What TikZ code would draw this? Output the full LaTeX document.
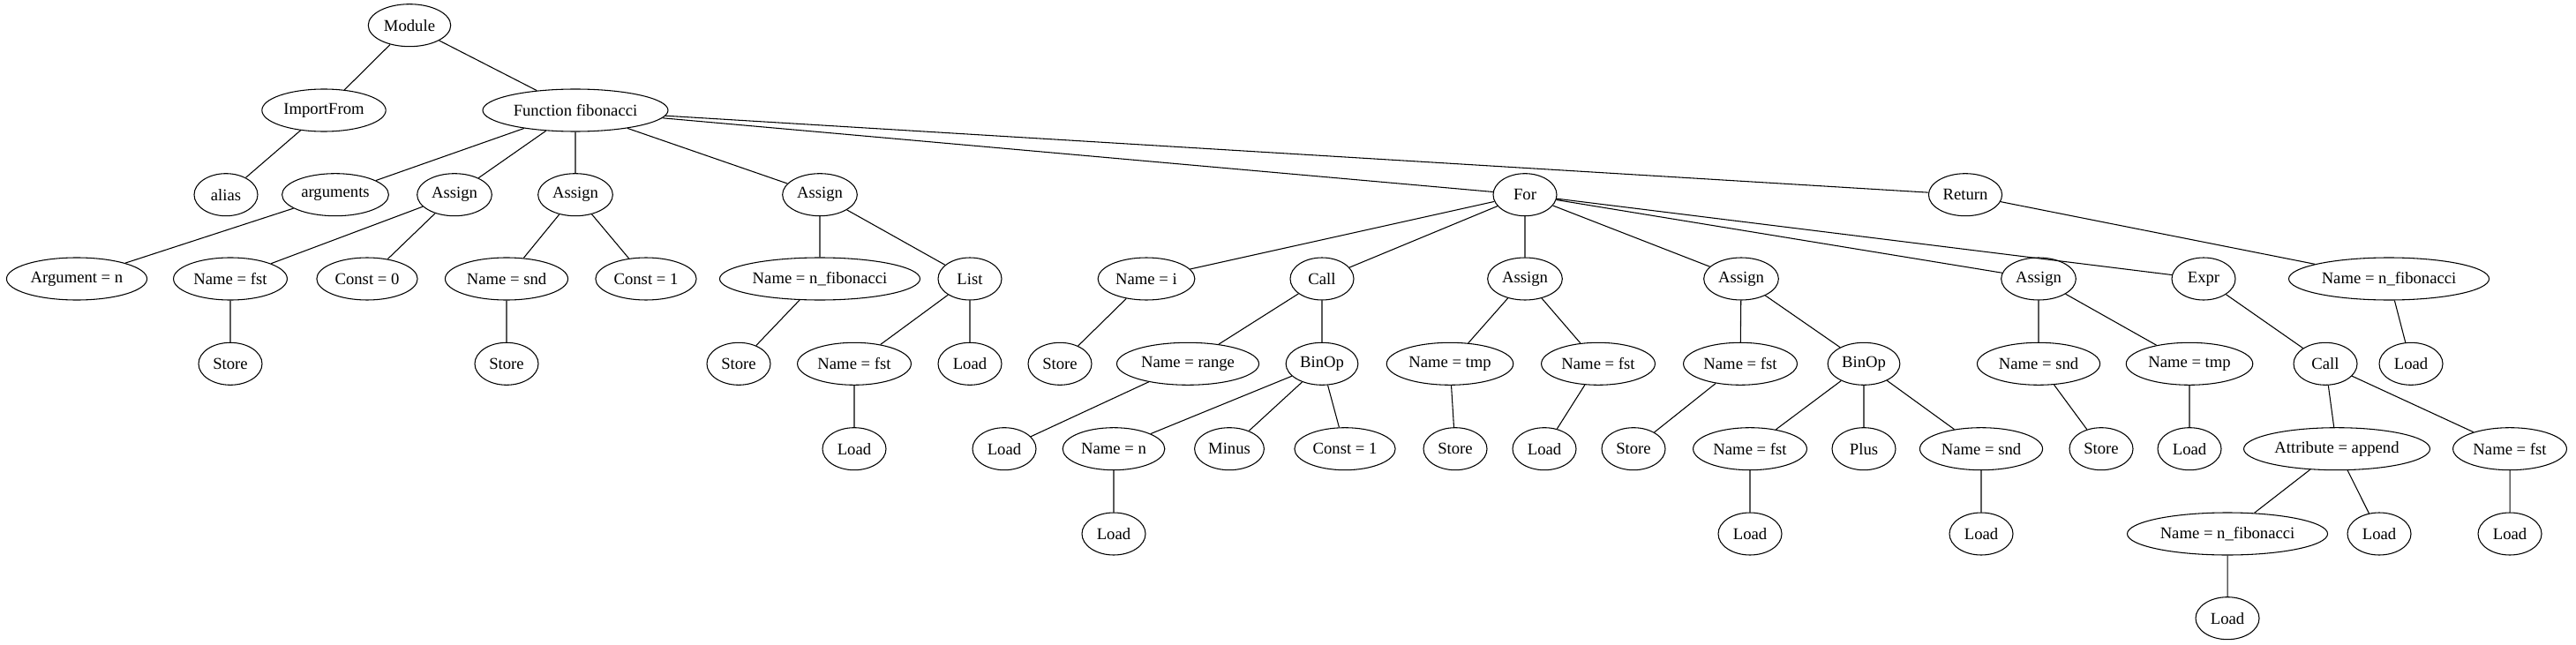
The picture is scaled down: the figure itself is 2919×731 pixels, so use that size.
\documentclass[tikz,border=0pt]{standalone}
\usepackage{fontspec}
\setmainfont{Liberation Serif}
\usetikzlibrary{shapes.geometric}

\begin{document}
\begin{tikzpicture}[x=0.75pt,y=-0.75pt,
  ast/.style={ellipse,draw,line width=0.8pt,minimum width=54pt,minimum height=36pt,
    inner xsep=3pt,inner ysep=1pt,font=\fontsize{14}{16}\selectfont},
  every path/.style={line width=0.8pt}]
\useasboundingbox (0,0) rectangle (2919,731);
% rank 1 and 2
\node[ast] (mod) at (464,28.7) {Module};
\node[ast] (imp) at (367,125) {ImportFrom};
\node[ast] (func) at (652,125) {Function fibonacci};
% rank 3
\node[ast] (alias) at (256,220.7) {alias};
\node[ast] (args) at (380,220.7) {arguments};
\node[ast] (asgA) at (515,220.7) {Assign};
\node[ast] (asgB) at (652,220.7) {Assign};
\node[ast] (asgC) at (929,220.7) {Assign};
\node[ast] (for) at (1728,220.7) {For};
\node[ast] (ret) at (2227,220.7) {Return};
% rank 4
\node[ast] (argn) at (87,316) {Argument = n};
\node[ast] (fstA) at (261,316) {Name = fst};
\node[ast] (cz) at (416,316) {Const = 0};
\node[ast] (sndA) at (574,316) {Name = snd};
\node[ast] (co) at (732,316) {Const = 1};
\node[ast] (nfibA) at (929,316) {Name = n\_fibonacci};
\node[ast] (list) at (1099,316) {List};
\node[ast] (namei) at (1299,316) {Name = i};
\node[ast] (call) at (1498,316) {Call};
\node[ast] (asgD) at (1728,316) {Assign};
\node[ast] (asgE) at (1973,316) {Assign};
\node[ast] (asgF) at (2310,316) {Assign};
\node[ast] (expr) at (2497,316) {Expr};
\node[ast] (nfibR) at (2707,316) {Name = n\_fibonacci};
% rank 5
\node[ast] (stA) at (261,412.3) {Store};
\node[ast] (stB) at (574,412.3) {Store};
\node[ast] (stC) at (837,412.3) {Store};
\node[ast] (fstL) at (968,412.3) {Name = fst};
\node[ast] (ldL) at (1099,412.3) {Load};
\node[ast] (stI) at (1201,412.3) {Store};
\node[ast] (range) at (1346,412.3) {Name = range};
\node[ast] (binM) at (1498,412.3) {BinOp};
\node[ast] (tmpD) at (1643,412.3) {Name = tmp};
\node[ast] (fstD) at (1811,412.3) {Name = fst};
\node[ast] (fstE) at (1972,412.3) {Name = fst};
\node[ast] (binP) at (2112,412.3) {BinOp};
\node[ast] (sndF) at (2310,412.3) {Name = snd};
\node[ast] (tmpF) at (2481,412.3) {Name = tmp};
\node[ast] (callX) at (2635,412.3) {Call};
\node[ast] (ldR) at (2732,412.3) {Load};
% rank 6
\node[ast] (ldFL) at (968,508.7) {Load};
\node[ast] (ldRg) at (1138,508.7) {Load};
\node[ast] (namen) at (1262,508.7) {Name = n};
\node[ast] (minus) at (1393,508.7) {Minus};
\node[ast] (cone) at (1524,508.7) {Const = 1};
\node[ast] (stT) at (1649,508.7) {Store};
\node[ast] (ldFD) at (1750,508.7) {Load};
\node[ast] (stFE) at (1851,508.7) {Store};
\node[ast] (fstP) at (1983,508.7) {Name = fst};
\node[ast] (plus) at (2112,508.7) {Plus};
\node[ast] (sndP) at (2245,508.7) {Name = snd};
\node[ast] (stS) at (2381,508.7) {Store};
\node[ast] (ldT) at (2481,508.7) {Load};
\node[ast] (attr) at (2648,508.7) {Attribute = append};
\node[ast] (fstX) at (2844,508.7) {Name = fst};
% rank 7 and 8
\node[ast] (ldN) at (1262,605) {Load};
\node[ast] (ldFP) at (1983,605) {Load};
\node[ast] (ldSP) at (2245,605) {Load};
\node[ast] (nfibX) at (2524,605) {Name = n\_fibonacci};
\node[ast] (ldAt) at (2696,605) {Load};
\node[ast] (ldFX) at (2844,605) {Load};
\node[ast] (ldNX) at (2524,700.7) {Load};
% edges
\draw (mod) -- (imp) (mod) -- (func) (imp) -- (alias);
\draw (func) -- (args) (func) -- (asgA) (func) -- (asgB) (func) -- (asgC) (func) -- (for) (func) -- (ret);
\draw (args) -- (argn);
\draw (asgA) -- (fstA) (asgA) -- (cz) (fstA) -- (stA);
\draw (asgB) -- (sndA) (asgB) -- (co) (sndA) -- (stB);
\draw (asgC) -- (nfibA) (asgC) -- (list) (nfibA) -- (stC);
\draw (list) -- (fstL) (list) -- (ldL) (fstL) -- (ldFL);
\draw (for) -- (namei) (for) -- (call) (for) -- (asgD) (for) -- (asgE) (for) -- (asgF) (for) -- (expr);
\draw (namei) -- (stI);
\draw (call) -- (range) (call) -- (binM) (range) -- (ldRg);
\draw (binM) -- (namen) (binM) -- (minus) (binM) -- (cone) (namen) -- (ldN);
\draw (asgD) -- (tmpD) (asgD) -- (fstD) (tmpD) -- (stT) (fstD) -- (ldFD);
\draw (asgE) -- (fstE) (asgE) -- (binP) (fstE) -- (stFE);
\draw (binP) -- (fstP) (binP) -- (plus) (binP) -- (sndP) (fstP) -- (ldFP) (sndP) -- (ldSP);
\draw (asgF) -- (sndF) (asgF) -- (tmpF) (sndF) -- (stS) (tmpF) -- (ldT);
\draw (expr) -- (callX) (callX) -- (attr) (callX) -- (fstX) (fstX) -- (ldFX);
\draw (attr) -- (nfibX) (attr) -- (ldAt) (nfibX) -- (ldNX);
\draw (ret) -- (nfibR) (nfibR) -- (ldR);
\end{tikzpicture}
\end{document}
